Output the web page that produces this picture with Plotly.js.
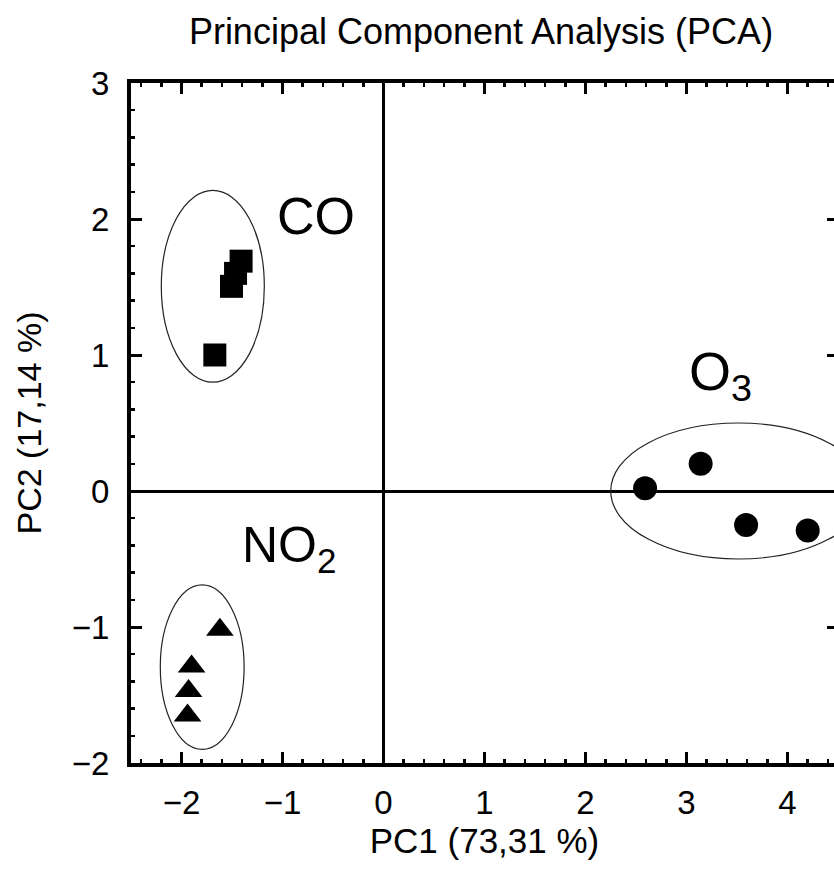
<!DOCTYPE html>
<html>
<head>
<meta charset="utf-8">
<script src="https://cdn.plot.ly/plotly-3.0.1.min.js"></script>
<style>
html,body{margin:0;padding:0;overflow:hidden;background:#fff;}
#chart{width:842px;height:876px;}
</style>
</head>
<body>
<div id="chart"></div>
<script>
// Data
const coX = [-1.67, -1.41, -1.465, -1.505];
const coY = [1.0, 1.69, 1.60, 1.505];
const no2X = [-1.62, -1.90, -1.93, -1.94];
const no2Y = [-1.02, -1.29, -1.47, -1.65];
const o3X = [2.59, 3.14, 3.59, 4.20];
const o3Y = [0.02, 0.20, -0.25, -0.29];

// Cluster ellipses: [x0, x1, y0, y1]
const ellipseCO = [-2.20, -1.18, 0.80, 2.21];
const ellipseNO2 = [-2.21, -1.38, -1.90, -0.69];
const ellipseO3 = [2.25, 4.78, -0.50, 0.50];

// Cluster labels
const labelText = ['CO', 'NO<sub>2</sub>', 'O<sub>3</sub>'];
const labelX = [-0.67, -0.94, 3.34];
const labelY = [2.02, -0.42, 0.85];
const labelSize = [52, 50, 54];

const titleText = 'Principal Component Analysis (PCA)';
const xTitle = 'PC1 (73,31 %)';
const yTitle = 'PC2 (17,14 %)';

const FONT = '"Liberation Sans", Arial, Helvetica, sans-serif';

const traces = [
  {x: coX, y: coY, mode: 'markers', type: 'scatter', name: 'CO',
   marker: {symbol: 'square', size: 23, color: '#000', line: {width: 0}}},
  {x: no2X, y: no2Y, mode: 'markers', type: 'scatter', name: 'NO2',
   marker: {symbol: 'triangle-up', size: 24, color: '#000', line: {width: 0}}},
  {x: o3X, y: o3Y, mode: 'markers', type: 'scatter', name: 'O3',
   marker: {symbol: 'circle', size: 24, color: '#000', line: {width: 0}}}
];

function ell(e) {
  return {type: 'circle', xref: 'x', yref: 'y', x0: e[0], x1: e[1], y0: e[2], y1: e[3],
          line: {color: '#222', width: 1.2}, layer: 'above'};
}

const annotations = labelText.map((t, i) => ({
  text: t, x: labelX[i], y: labelY[i], xref: 'x', yref: 'y', showarrow: false,
  font: {family: FONT, size: labelSize[i], color: '#000'}, xanchor: 'center', yanchor: 'middle'
}));

const axisCommon = {
  showgrid: false, zeroline: true, zerolinecolor: '#000', zerolinewidth: 3,
  showline: true, linecolor: '#000', linewidth: 4, mirror: 'ticks',
  ticks: 'inside', ticklen: 11, tickwidth: 3, tickcolor: '#000', dtick: 1,
  minor: {ticks: 'inside', ticklen: 4, tickwidth: 2.5, tickcolor: '#000', dtick: 0.2, showgrid: false},
  tickfont: {family: FONT, size: 33, color: '#000'}
};

const layout = {
  width: 842, height: 876,
  margin: {l: 131, r: 4, t: 83, b: 113},
  paper_bgcolor: '#fff', plot_bgcolor: '#fff',
  showlegend: false,
  title: {text: titleText, font: {family: FONT, size: 36, color: '#000'},
          x: 481 / 842, xref: 'container', xanchor: 'center', y: 1 - 31 / 876, yref: 'container', yanchor: 'middle'},
  xaxis: Object.assign({}, axisCommon, {range: [-2.5, 4.5], ticklabelstandoff: 7,
    title: {text: xTitle, font: {family: FONT, size: 35, color: '#000'}, standoff: 0}}),
  yaxis: Object.assign({}, axisCommon, {range: [-2, 3], ticklabelstandoff: 11,
    title: {text: yTitle, font: {family: FONT, size: 34, color: '#000'}, standoff: 21}}),
  shapes: [ell(ellipseCO), ell(ellipseNO2), ell(ellipseO3)],
  annotations: annotations
};

Plotly.newPlot('chart', traces, layout, {staticPlot: true, displayModeBar: false});
</script>
</body>
</html>
